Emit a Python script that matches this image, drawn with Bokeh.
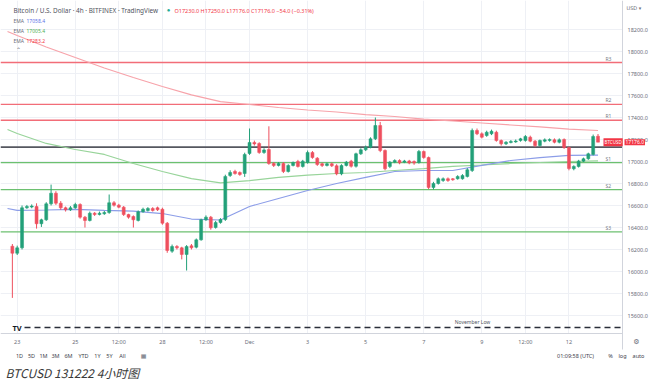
import pandas as pd
from bokeh.plotting import figure
from bokeh.models import (ColumnDataSource, Range1d, FixedTicker, NumeralTickFormatter,
                          Label, BoxAnnotation)
from bokeh.embed import file_html
from bokeh.resources import INLINE

# ---------------- data (BTCUSD, Bitfinex, 4h candles) ----------------
times = pd.date_range("2022-11-22 20:00", periods=122, freq="4h")

opens = [16230, 16166, 16215, 16579, 16586, 16591, 16434, 16470, 16615, 16712,
         16621, 16579, 16561, 16579, 16609, 16494, 16464, 16530, 16518, 16525,
         16536, 16625, 16603, 16585, 16518, 16500, 16464, 16543, 16555, 16573,
         16579, 16566, 16439, 16185, 16227, 16215, 16155, 16234, 16221, 16288,
         16470, 16494, 16400, 16445, 16473, 16873, 16909, 16900, 16891, 17073,
         17173, 17164, 17082, 17109, 16982, 16964, 16982, 16909, 16964, 17000,
         16955, 16991, 17082, 17030, 16979, 16964, 16979, 16961, 16888, 16964,
         17003, 16957, 17070, 17106, 17130, 17206, 17327, 17100, 16955, 16994,
         17009, 16994, 17005, 17000, 16991, 17091, 17036, 16764, 16800, 16827,
         16843, 16843, 16843, 16843, 16864, 16918, 17282, 17252, 17236, 17252,
         17266, 17191, 17161, 17173, 17178, 17191, 17191, 17221, 17185, 17145,
         17185, 17191, 17197, 17175, 17200, 17127, 16934, 16955, 17003, 17025,
         17064, 17230]
highs = [16250, 16235, 16600, 16605, 16610, 16620, 16480, 16630, 16790, 16730,
         16640, 16590, 16595, 16625, 16620, 16505, 16545, 16540, 16545, 16550,
         16700, 16640, 16615, 16595, 16525, 16510, 16555, 16580, 16585, 16585,
         16590, 16580, 16450, 16245, 16240, 16225, 16240, 16250, 16300, 16480,
         16510, 16505, 16460, 16485, 16880, 16920, 16925, 16910, 17080, 17300,
         17190, 17175, 17120, 17320, 16995, 16995, 16995, 16975, 17000, 17015,
         17015, 17100, 17095, 17040, 16990, 16990, 16990, 16975, 16975, 17005,
         17015, 17080, 17120, 17145, 17220, 17400, 17360, 17110, 17005, 17020,
         17020, 17015, 17015, 17010, 17105, 17100, 17045, 16815, 16855, 16855,
         16855, 16850, 16875, 16885, 16940, 17300, 17300, 17265, 17280, 17290,
         17280, 17200, 17185, 17195, 17200, 17215, 17240, 17235, 17195, 17200,
         17210, 17210, 17210, 17210, 17210, 17135, 16965, 17015, 17035, 17080,
         17245, 17250]
lows = [15760, 16150, 16200, 16570, 16575, 16390, 16405, 16460, 16600, 16605,
        16560, 16545, 16550, 16570, 16480, 16400, 16455, 16505, 16510, 16515,
        16525, 16590, 16575, 16505, 16480, 16400, 16455, 16535, 16545, 16545,
        16550, 16425, 16170, 16170, 16200, 16110, 16009, 16200, 16210, 16280,
        16460, 16380, 16390, 16435, 16460, 16860, 16880, 16870, 16860, 17060,
        17145, 17070, 17070, 16970, 16950, 16955, 16895, 16900, 16955, 16945,
        16945, 16980, 17025, 16960, 16950, 16955, 16950, 16875, 16875, 16955,
        16945, 16945, 17060, 17095, 17120, 17195, 17085, 16920, 16940, 16985,
        16975, 16985, 16975, 16970, 16980, 17025, 16750, 16745, 16790, 16815,
        16815, 16825, 16835, 16835, 16855, 16905, 17240, 17210, 17225, 17240,
        17180, 17145, 17150, 17165, 17170, 17180, 17180, 17175, 17130, 17135,
        17175, 17180, 17165, 17165, 17115, 16920, 16920, 16945, 16995, 17015,
        17055, 17176]
closes = [16166, 16215, 16579, 16591, 16595, 16434, 16470, 16615, 16712, 16621,
          16579, 16561, 16579, 16609, 16494, 16464, 16530, 16518, 16530, 16536,
          16625, 16603, 16585, 16518, 16494, 16470, 16543, 16566, 16573, 16555,
          16561, 16439, 16191, 16227, 16215, 16155, 16227, 16215, 16288, 16470,
          16494, 16397, 16445, 16473, 16864, 16900, 16891, 16882, 17064, 17173,
          17160, 17082, 17105, 16982, 16964, 16982, 16909, 16964, 16991, 16955,
          17003, 17082, 17036, 16973, 16964, 16979, 16961, 16888, 16964, 16994,
          16957, 17070, 17106, 17130, 17206, 17327, 17100, 16934, 16994, 17009,
          16988, 17005, 16986, 16986, 17091, 17036, 16764, 16800, 16843, 16843,
          16827, 16834, 16864, 16873, 16925, 17282, 17252, 17221, 17266, 17275,
          17191, 17161, 17175, 17182, 17186, 17206, 17227, 17185, 17145, 17191,
          17197, 17200, 17175, 17197, 17127, 16936, 16955, 17003, 17025, 17070,
          17227, 17176]

ema_dates = ["2022-11-22 16:00", "2022-11-23 00:00", "2022-11-24 00:00", "2022-11-25 00:00",
             "2022-11-26 00:00", "2022-11-27 00:00", "2022-11-28 00:00", "2022-11-29 00:00",
             "2022-11-30 00:00", "2022-12-01 00:00", "2022-12-02 00:00", "2022-12-03 00:00",
             "2022-12-04 00:00", "2022-12-05 00:00", "2022-12-06 00:00", "2022-12-07 00:00",
             "2022-12-08 00:00", "2022-12-09 00:00", "2022-12-10 00:00", "2022-12-11 00:00",
             "2022-12-12 00:00", "2022-12-13 00:00"]
ema_fast = [16573, 16555, 16559, 16564, 16555, 16548, 16527, 16477, 16468, 16591, 16664,
            16736, 16800, 16855, 16909, 16918, 16918, 16964, 17009, 17036, 17055, 17058]
ema_mid = [17291, 17255, 17164, 17109, 17064, 16982, 16909, 16845, 16805, 16827, 16855,
           16877, 16891, 16900, 16918, 16936, 16955, 16968, 16982, 16991, 17000, 17005]
ema_slow = [18182, 18145, 18041, 17945, 17850, 17764, 17682, 17605, 17545, 17518, 17491,
            17468, 17450, 17427, 17409, 17386, 17368, 17350, 17332, 17314, 17295, 17282]

level_names = ["R3", "R2", "R1", "S1", "S2", "S3"]
level_values = [17900, 17520, 17375, 16990, 16745, 16360]
pivot_value = 17130
november_low = 15490

price_ticks = [15600, 15800, 16000, 16200, 16400, 16600, 16800, 17000, 17200,
               17400, 17600, 17800, 18000, 18200]
time_tick_dates = ["2022-11-23 00:00", "2022-11-25 00:00", "2022-11-26 12:00", "2022-11-28 00:00",
                   "2022-11-29 12:00", "2022-12-01 00:00", "2022-12-03 00:00", "2022-12-05 00:00",
                   "2022-12-07 00:00", "2022-12-09 00:00", "2022-12-10 12:00", "2022-12-12 00:00"]
time_tick_labels = ["23", "25", "12:00", "28", "12:00", "Dec", "3", "5", "7", "9", "12:00", "12"]

header_title = "Bitcoin / U.S. Dollar · 4h · BITFINEX · TradingView"
header_ohlc = "O17230.0 H17250.0 L17176.0 C17176.0 −54.0 (−0.31%)"
ema_texts = ["17058.4", "17005.4", "17283.2"]
last_price_text = "17176.0"
range_buttons = ["1D", "5D", "1M", "3M", "6M", "YTD", "1Y", "5Y", "All"]
caption = "BTCUSD 131222 4小时图"

# ---------------- layout / styling ----------------
W, H = 660, 384
UP = "#22a079"
DOWN = "#ee4f5e"
FONT = "Noto Sans"
GRAY = "#787b86"
PX_PER_BAR = 4.84          # horizontal pixels per 4h bar
PX_PER_USD = 0.11          # vertical pixels per dollar
LAST_X, AXIS_X = 597.5, 622  # pixel column of last bar / of the price axis
PRICE_AT_161 = 17000       # y pixel 161 shows this price
AXIS_Y = 332.5             # pixel row of the time axis

step = pd.Timedelta(hours=4)
t_last = times[-1]


def t_at(px):
    return t_last + step * ((px - LAST_X) / PX_PER_BAR)


def price_at(py):
    return PRICE_AT_161 + (161 - py) / PX_PER_USD


t_axis = t_at(AXIS_X)
t_axis_ms = t_axis.value / 1e6
p_axis = price_at(AXIS_Y)

colors = [UP if c >= o else DOWN for o, c in zip(opens, closes)]
src = ColumnDataSource(dict(
    t=times, o=opens, h=highs, l=lows, c=closes,
    top=[max(o, c) for o, c in zip(opens, closes)],
    bot=[min(o, c) for o, c in zip(opens, closes)],
    color=colors,
))

p = figure(width=W, height=H, x_axis_type="datetime", y_axis_location="right",
           x_range=Range1d(start=t_at(0), end=t_at(W)),
           y_range=Range1d(start=price_at(H), end=price_at(0)),
           output_backend="svg", toolbar_location=None, min_border=0, title=None)
p.outline_line_color = None
p.background_fill_color = "white"
p.border_fill_color = "white"

# axes (drawn at fixed positions inside the frame)
tick_ms = [int(pd.Timestamp(d).value // 10**6) for d in time_tick_dates]
p.xaxis.ticker = FixedTicker(ticks=tick_ms)
p.xaxis.major_label_overrides = {ms: lbl for ms, lbl in zip(tick_ms, time_tick_labels)}
p.xgrid.ticker = FixedTicker(ticks=tick_ms)
p.yaxis.ticker = FixedTicker(ticks=price_ticks)
p.ygrid.ticker = FixedTicker(ticks=price_ticks)
p.yaxis.formatter = NumeralTickFormatter(format="0.0")
for ax in (p.xaxis[0], p.yaxis[0]):
    ax.major_label_text_font = FONT
    ax.major_label_text_font_size = "5.5px"
    ax.major_label_text_color = "#6a6d78"
    ax.major_tick_line_color = None
    ax.minor_tick_line_color = None
    ax.major_tick_out = 0
    ax.major_tick_in = 0
    ax.minor_tick_out = 0
    ax.axis_line_color = "#d1d4dc"
p.xaxis.fixed_location = p_axis
p.xaxis.bounds = (t_at(0).value / 1e6, t_axis_ms)
p.xaxis.major_label_standoff = 5
p.yaxis.fixed_location = t_axis_ms
p.yaxis.bounds = (price_at(349), price_at(0))
p.yaxis.major_label_standoff = 5
p.xgrid.grid_line_color = "#eef0f5"
p.ygrid.grid_line_color = "#eef0f5"

# blank the price-axis strip and the area under the time axis
p.add_layout(BoxAnnotation(left=t_axis, fill_color="white", fill_alpha=1, line_color=None, level="underlay"))
p.add_layout(BoxAnnotation(top=p_axis, fill_color="white", fill_alpha=1, line_color=None, level="underlay"))

# level lines (stop at the price axis)
x0 = t_at(0)
p.segment(x0=[x0] * 3, x1=[t_axis] * 3, y0=level_values[:3], y1=level_values[:3],
          line_color="#f26d78", line_width=1.3)
p.segment(x0=[x0] * 3, x1=[t_axis] * 3, y0=level_values[3:], y1=level_values[3:],
          line_color="#6cc070", line_width=1.3)
p.segment(x0=[x0], x1=[t_axis], y0=[pivot_value], y1=[pivot_value], line_color="#55575f", line_width=1.8)
p.segment(x0=[t_at(24)], x1=[t_axis], y0=[november_low], y1=[november_low], line_color="#2a2e39",
          line_width=1.5, line_dash="6 4")

# EMAs
ed = pd.to_datetime(ema_dates, format="%Y-%m-%d %H:%M")
p.line(ed, ema_slow, line_color="#f7a3aa", line_width=1.2)
p.line(ed, ema_mid, line_color="#98d49a", line_width=1.2)
p.line(ed, ema_fast, line_color="#8c9de8", line_width=1.2)

# candles
p.segment(x0="t", y0="l", x1="t", y1="h", line_color="color", line_width=1, source=src)
p.vbar(x="t", width=step * 0.62, top="top", bottom="bot", fill_color="color",
       line_color="color", line_width=0.5, source=src)


def lab(text, x, y, size="5.5px", color=GRAY, align="left", baseline="middle",
        style="normal", yu="screen", bg=None, font=FONT, yoff=0, pad=0):
    kw = {}
    if bg is not None:
        kw["background_fill_color"] = bg
        kw["padding"] = pad
    # screen y counts up from the bottom of the picture
    yy = (H - y) if yu == "screen" else y
    p.add_layout(Label(x=x, y=yy, x_units="screen", y_units=yu, text=text, text_font=font,
                       text_font_size=size, text_color=color, text_align=align,
                       text_baseline=baseline, text_font_style=style, y_offset=yoff, **kw))


# level names
for name, v in zip(level_names, level_values):
    lab(name, 605, v, size="5px", baseline="bottom", yu="data", yoff=1)
lab("November Low", 472, november_low, size="5px", color="#50535e", align="center",
    baseline="bottom", yu="data", yoff=3)
lab("TV", 12, 327, size="7.5px", color="#131722", style="bold")

# header (y given as pixel row from the top)
lab(header_title, 13, 10, size="6.4px", color="#50535e")
lab("●", 168, 9.5, size="6px", color="#22ab94", align="center")
lab(header_ohlc, 174, 10, size="5.5px", color="#f23645")
for k, (txt, col) in enumerate(zip(ema_texts, ["#5b73e8", "#4caf50", "#f23645"])):
    lab("EMA", 13, 20 + 10 * k, size="5px", color="#6a6d78")
    lab(txt, 26, 20 + 10 * k, size="5px", color=col)
lab("⌃", 18, 49, size="6px", color="#6a6d78", align="center", font="DejaVu Sans")

# price axis extras
lab("USD ▾", 626, 7, size="5px", color="#6a6d78", font="DejaVu Sans")
lab("BTCUSD", 603, closes[-1], size="4.5px", color="white", yu="data", bg="#f23645", pad=1)
lab(last_price_text, 624, closes[-1], size="5px", color="white", yu="data", bg="#f23645", pad=1)

# bottom toolbar
btn_x = [19, 31, 43, 55, 68, 83, 97, 109, 122]
for txt, bx in zip(range_buttons, btn_x):
    lab(txt, bx, 355, size="5.5px", color="#3d404a", align="center")
lab("▦", 143, 355, size="6px", color="#6a6d78", align="center", font="DejaVu Sans")
lab("01:09:58 (UTC)", 575, 355, size="5.5px", color="#3d404a", align="center")
lab("%", 610, 355, size="5.5px", color="#3d404a", align="center")
lab("log", 622, 355, size="5.5px", color="#3d404a", align="center")
lab("auto", 638, 355, size="5.5px", color="#3d404a", align="center")
lab("⚙", 636, 341, size="7px", color="#6a6d78", align="center", font="DejaVu Sans")

# caption
lab(caption, 5, 372, size="12px", color="#3a3a3a", style="italic", font="Noto Sans CJK SC")

open("out.html", "w").write(file_html(p, INLINE))
